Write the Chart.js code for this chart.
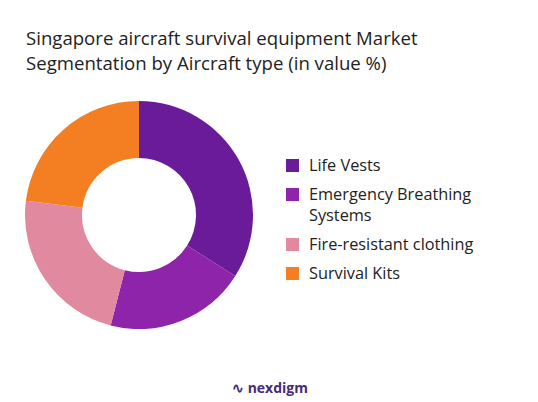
<!DOCTYPE html>
<html>
<head>
<meta charset="utf-8">
<script src="https://cdn.jsdelivr.net/npm/chart.js@4"></script>
<style>
  body { margin: 0; background: #fff; font-family: "Open Sans", sans-serif; }
  #wrap { position: relative; width: 538px; height: 402px; }
  #title { position: absolute; left: 26px; top: 25px; font-size: 18.6px; line-height: 25px; color: #222; }
  #chartBox { position: absolute; left: 25px; top: 101px; width: 228px; height: 228px; }
  #legend { position: absolute; left: 286px; top: 155px; font-size: 16.3px; color: #222; }
  .item { display: flex; align-items: flex-start; margin-bottom: 8px; line-height: 21px; }
  .sw { width: 13px; height: 13px; margin: 4px 10px 0 0; flex: none; }
  #logo { position: absolute; left: 232px; top: 378px; font-size: 14px; color: #4a2a7a; font-weight: bold; }
</style>
</head>
<body>
<div id="wrap">
  <div id="title">Singapore aircraft survival equipment Market<br>Segmentation by Aircraft type (in value %)</div>
  <div id="chartBox"><canvas id="myChart"></canvas></div>
  <div id="legend"></div>
  <div id="logo">∿ nexdigm</div>
</div>
<script>
// segment shares
const categories = ['Life Vests', 'Emergency Breathing Systems', 'Fire-resistant clothing', 'Survival Kits'];
const shares = [34, 20, 23, 23];
const colors = ['#6a1b9a', '#8e24aa', '#e0899f', '#f37f22'];
const legendLines = [['Life Vests'], ['Emergency Breathing', 'Systems'], ['Fire-resistant clothing'], ['Survival Kits']];

new Chart(document.getElementById('myChart').getContext('2d'), {
  type: 'doughnut',
  data: {
    labels: categories,
    datasets: [{ data: shares, backgroundColor: colors, borderWidth: 0 }],
  },
  options: {
    animation: false,
    responsive: true,
    maintainAspectRatio: false,
    cutout: '50%',
    plugins: { legend: { display: false }, tooltip: { enabled: false } },
  },
});

const legend = document.getElementById('legend');
categories.forEach((c, i) => {
  const div = document.createElement('div');
  div.className = 'item';
  div.innerHTML = '<span class="sw" style="background:' + colors[i] + '"></span><span>' + legendLines[i].join('<br>') + '</span>';
  legend.appendChild(div);
});
</script>
</body>
</html>
